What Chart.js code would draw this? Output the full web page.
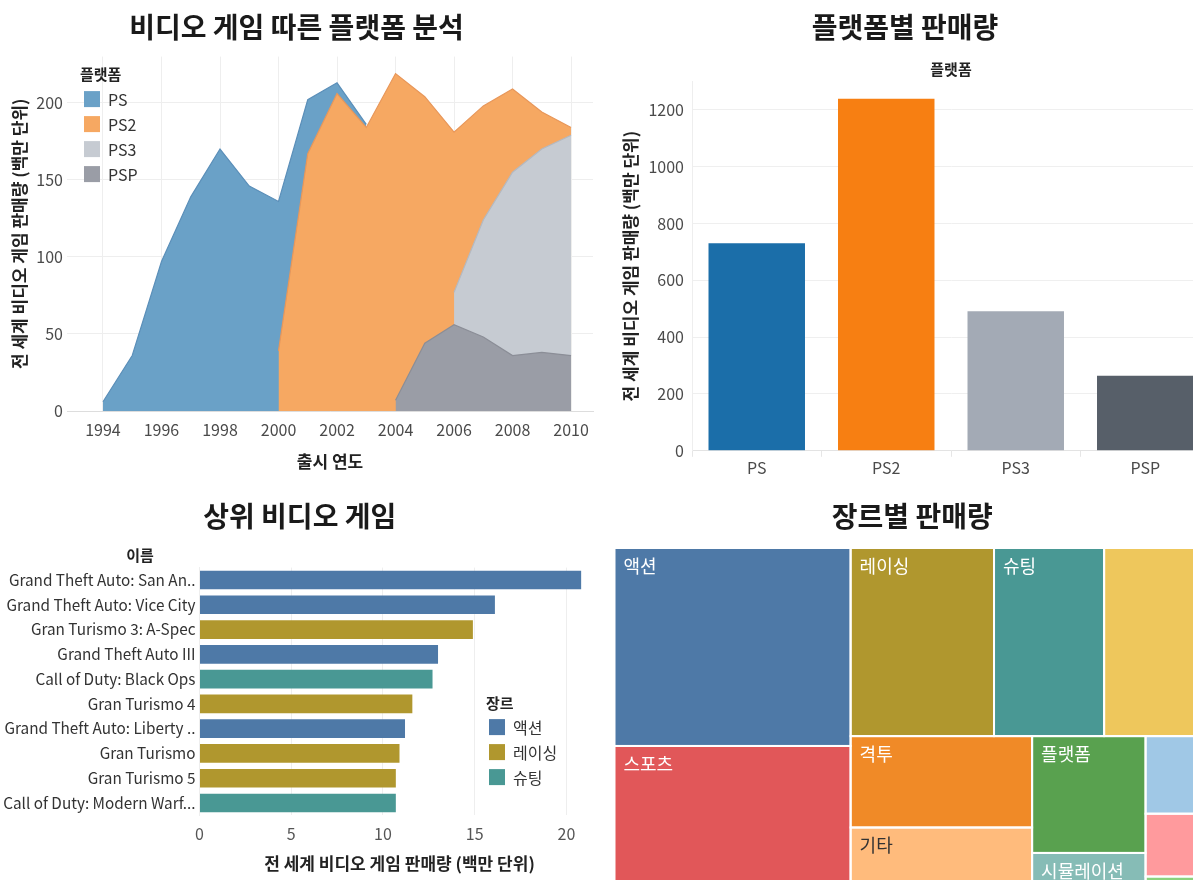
<!DOCTYPE html>
<html>
<head>
<meta charset="utf-8">
<script src="https://cdn.jsdelivr.net/npm/chart.js@4.4.1/dist/chart.umd.min.js"></script>
<style>
  html, body { margin:0; padding:0; background:#ffffff; width:1193px; height:880px; overflow:hidden; position:relative; }
  .panel { position:absolute; }
  .panel canvas { display:block; }
</style>
</head>
<body>
<div class="panel" style="left:0px;top:0px;width:600px;height:490px"><canvas id="areaChart"></canvas></div>
<div class="panel" style="left:600px;top:0px;width:620px;height:490px"><canvas id="platformChart"></canvas></div>
<div class="panel" style="left:0px;top:490px;width:600px;height:400px"><canvas id="gameChart"></canvas></div>
<div class="panel" style="left:600px;top:490px;width:620px;height:421px"><canvas id="genreChart"></canvas></div>
<script>
// ================= DATA =================
// Chart 1: stacked area of sales by release year (millions)
const years = [1994,1995,1996,1997,1998,1999,2000,2001,2002,2003,2004,2005,2006,2007,2008,2009,2010];
const platforms = ['PS','PS2','PS3','PSP'];
const salesPS  = [6,36,97,139,170,146,97,35,7,2,null,null,null,null,null,null,null];
const salesPS2 = [null,null,null,null,null,null,39,167,206,184,212,160,104,74,54,24,5];
const salesPS3 = [null,null,null,null,null,null,null,null,null,null,null,null,21,76,119,132,143];
const salesPSP = [null,null,null,null,null,null,null,null,null,null,7,44,56,48,36,38,36];
const yearTicks = [1994,1996,1998,2000,2002,2004,2006,2008,2010];
const areaTicks = [0,50,100,150,200];

// Chart 2: total sales by platform
const platformTotals = [731,1240,491,264];
const platformTicks = [0,200,400,600,800,1000,1200];

// Chart 3: top games
const games = ['Grand Theft Auto: San An..','Grand Theft Auto: Vice City','Gran Turismo 3: A-Spec','Grand Theft Auto III','Call of Duty: Black Ops','Gran Turismo 4','Grand Theft Auto: Liberty ..','Gran Turismo','Gran Turismo 5','Call of Duty: Modern Warf...'];
const gameSales = [20.8,16.1,14.9,13.0,12.7,11.6,11.2,10.9,10.7,10.7];
const gameGenres = ['액션','액션','레이싱','액션','슈팅','레이싱','액션','레이싱','레이싱','슈팅'];
const gameTicks = [0,5,10,15,20];

// Chart 4: treemap of sales by genre (unlabelled cells have no visible name)
const genreNames = ['액션','스포츠','레이싱','슈팅','','격투','기타','플랫폼','시뮬레이션','','',''];
const genreSales = [589,491,340,261,251,209,191,167,83,63,51,28];

// ================= STYLE =================
const FONT = "'Noto Sans CJK KR', 'Noto Sans', sans-serif";
Chart.defaults.font.family = FONT;
Chart.defaults.color = '#444';
Chart.defaults.animation = false;
Chart.defaults.plugins.tooltip.enabled = false;

const areaFill = ['#6aa1c7','#f6a862','#c6cbd2','#9a9da6'];
const areaLine = ['#5b8fb9','#e8975a','#b4b9c1','#8b8e97'];
const barColors = ['#1b6ea9','#f77f12','#a3aab5','#575f69'];
const genreColor = {'액션':'#4e79a7','레이싱':'#b0972e','슈팅':'#499894'};
const treemapColors = ['#4e79a7','#e15759','#b0972e','#499894','#eec75c','#f08a27','#ffbb7c','#59a14f','#86bcb6','#a0c8e6','#ff9a9d','#8cd17d'];

const titleFont = { family: FONT, size: 28, weight: 'bold', lineHeight: 1.2 };
const axisTitleFont = { family: FONT, size: 17, weight: 'bold', lineHeight: 1.2 };
const tickFont = { family: FONT, size: 16, lineHeight: 1.2 };
const plain = v => String(v);

// overlay plugin: legends / headers drawn relative to chart area
const overlay = {
  id: 'overlay',
  afterDraw(chart, args, opts) {
    const ctx = chart.ctx, a = chart.chartArea;
    ctx.save();
    ctx.textBaseline = 'middle';
    (opts.texts || []).forEach(t => {
      ctx.font = t.font; ctx.fillStyle = t.color; ctx.textAlign = t.align || 'left';
      ctx.fillText(t.text, a.left + t.dx, a.top + t.dy);
    });
    const lg = opts.legend;
    if (lg) {
      const x = a.left + lg.dx, y = a.top + lg.dy;
      ctx.textAlign = 'left';
      ctx.font = 'bold 15px ' + FONT; ctx.fillStyle = '#222';
      ctx.fillText(lg.title, x + lg.titleDx, y);
      lg.items.forEach((it, i) => {
        const cy = y + lg.first + i * lg.step;
        ctx.fillStyle = it.color;
        ctx.fillRect(x, cy - 8, 16, 16);
        ctx.font = '16px ' + FONT; ctx.fillStyle = '#333';
        ctx.fillText(it.text, x + 24, cy + 1);
      });
    }
    ctx.restore();
  }
};

// ================= CHART 1: stacked area =================
(function(){
  const series = [salesPS, salesPS2, salesPS3, salesPSP];
  const stackOrder = [3, 2, 1, 0]; // PSP at bottom, then PS3, PS2, PS on top
  const datasets = [];
  stackOrder.forEach((pi, level) => {
    const pts = [];
    years.forEach((yr, k) => {
      const v = series[pi][k];
      if (v === null) return;
      let base = 0;
      for (let l = 0; l < level; l++) { const lv = series[stackOrder[l]][k]; if (lv !== null) base += lv; }
      pts.push({ x: yr, y: base + v });
    });
    datasets.push({
      label: platforms[pi], data: pts, fill: 'origin',
      backgroundColor: areaFill[pi], borderColor: areaLine[pi], borderWidth: 1.2,
      pointRadius: 0, tension: 0
    });
  });
  new Chart(document.getElementById('areaChart'), {
    type: 'line',
    data: { datasets },
    options: {
      responsive: true, maintainAspectRatio: false,
      layout: { padding: { left: 0, right: 7, top: 0, bottom: 0 } },
      plugins: {
        legend: { display: false },
        title: { display: true, text: '비디오 게임 따른 플랫폼 분석', font: titleFont, color: '#1a1a1a', padding: { top: 11, bottom: 12 } },
        overlay: {
          legend: { dx: 17, dy: 18, titleDx: -4, first: 24.5, step: 25, title: '플랫폼',
                    items: platforms.map((p, i) => ({ text: p, color: areaFill[i] })) }
        }
      },
      scales: {
        x: {
          type: 'linear', min: 1992.77, max: 2010.75,
          afterBuildTicks: s => { s.ticks = yearTicks.map(v => ({ value: v })); },
          afterFit: s => { s.height = 79; },
          ticks: { font: tickFont, color: '#4a4a4a', padding: 9, callback: plain },
          grid: { color: '#eeeeee', drawTicks: false },
          border: { color: '#dddddd' },
          title: { display: true, text: '출시 연도', font: axisTitleFont, color: '#222', padding: { top: 10, bottom: 18 } }
        },
        y: {
          min: 0, max: 230,
          afterBuildTicks: s => { s.ticks = areaTicks.map(v => ({ value: v })); },
          afterFit: s => { s.width = 67; },
          ticks: { font: tickFont, color: '#4a4a4a', padding: 4, callback: plain },
          grid: { color: '#eeeeee', drawTicks: false },
          border: { display: false },
          title: { display: true, text: '전 세계 비디오 게임 판매량 (백만 단위)', font: axisTitleFont, color: '#222', padding: { top: 9, bottom: 0 } }
        }
      }
    },
    plugins: [overlay]
  });
})();

// ================= CHART 2: platform bars =================
new Chart(document.getElementById('platformChart'), {
  type: 'bar',
  data: { labels: platforms, datasets: [{ label: '판매량', data: platformTotals, backgroundColor: barColors, categoryPercentage: 1, barPercentage: 0.745 }] },
  options: {
    responsive: true, maintainAspectRatio: false,
    layout: { padding: { left: 0, right: 10, top: 0, bottom: 10 } },
    plugins: {
      legend: { display: false },
      title: { display: true, text: '플랫폼별 판매량', font: titleFont, color: '#1a1a1a', padding: { top: 11, bottom: 7 } },
      subtitle: { display: true, text: '플랫폼', fullSize: false, font: { family: FONT, size: 15, weight: 'bold', lineHeight: 1.2 }, color: '#222', padding: { top: 9, bottom: 3 } }
    },
    scales: {
      x: {
        ticks: { font: tickFont, color: '#4a4a4a', padding: 2 },
        grid: { offset: true, drawOnChartArea: false, drawTicks: true, tickLength: 6, color: '#e6e6e6' },
        border: { color: '#e3e3e3' }
      },
      y: {
        min: 0, max: 1300,
        afterBuildTicks: s => { s.ticks = platformTicks.map(v => ({ value: v })); },
        afterFit: s => { s.width = 92; },
        ticks: { font: tickFont, color: '#4a4a4a', padding: 8, callback: plain },
        grid: { color: '#efefef', drawTicks: false },
        border: { color: '#eeeeee' },
        title: { display: true, text: '전 세계 비디오 게임 판매량 (백만 단위)', font: axisTitleFont, color: '#222', padding: { top: 20, bottom: 0 } }
      }
    }
  }
});

// ================= CHART 3: top games =================
(function(){
  const uniqueGenres = [];
  gameGenres.forEach(g => { if (!uniqueGenres.includes(g)) uniqueGenres.push(g); });
  new Chart(document.getElementById('gameChart'), {
    type: 'bar',
    data: { labels: games, datasets: [{ label: '판매량', data: gameSales, backgroundColor: gameGenres.map(g => genreColor[g]), categoryPercentage: 1, barPercentage: 0.755 }] },
    options: {
      indexAxis: 'y',
      responsive: true, maintainAspectRatio: false,
      layout: { padding: { left: 0, right: 0.5, top: 0, bottom: 0 } },
      plugins: {
        legend: { display: false },
        title: { display: true, text: '상위 비디오 게임', font: titleFont, color: '#1a1a1a', padding: { top: 9.5, bottom: 34.5 } },
        overlay: {
          texts: [{ text: '이름', dx: -59.5, dy: -12.5, align: 'center', font: 'bold 15px ' + FONT, color: '#222' }],
          legend: { dx: 289.5, dy: 135.5, titleDx: -3, first: 24, step: 25, title: '장르',
                    items: uniqueGenres.map(g => ({ text: g, color: genreColor[g] })) }
        }
      },
      scales: {
        x: {
          min: 0, max: 21.8,
          afterBuildTicks: s => { s.ticks = gameTicks.map(v => ({ value: v })); },
          afterFit: s => { s.height = 74.6; },
          ticks: { font: tickFont, color: '#555', padding: 9, callback: plain },
          grid: { color: '#eeeeee', drawTicks: false },
          border: { display: false },
          title: { display: true, text: '전 세계 비디오 게임 판매량 (백만 단위)', font: axisTitleFont, color: '#222', padding: { top: 8, bottom: 16 } }
        },
        y: {
          afterFit: s => { s.width = 199.5; },
          ticks: { font: { family: FONT, size: 15.3, lineHeight: 1.2 }, color: '#333', padding: 4, autoSkip: false },
          grid: { display: false, drawTicks: false },
          border: { color: '#eeeeee' }
        }
      }
    },
    plugins: [overlay]
  });
})();

// ================= CHART 4: treemap (squarified, golden ratio) =================
function squarify(values, x0, y0, x1, y1, ratio) {
  const out = [];
  let value = values.reduce((a, b) => a + b, 0);
  let i0 = 0, i1 = 0;
  const n = values.length;
  while (i0 < n) {
    const dx = x1 - x0, dy = y1 - y0;
    let sumValue = values[i1++];
    let minValue = sumValue, maxValue = sumValue;
    const alpha = Math.max(dy / dx, dx / dy) / (value * ratio);
    let beta = sumValue * sumValue * alpha;
    let minRatio = Math.max(maxValue / beta, beta / minValue);
    for (; i1 < n; ++i1) {
      const nv = values[i1];
      sumValue += nv;
      if (nv < minValue) minValue = nv;
      if (nv > maxValue) maxValue = nv;
      beta = sumValue * sumValue * alpha;
      const newRatio = Math.max(maxValue / beta, beta / minValue);
      if (newRatio > minRatio) { sumValue -= nv; break; }
      minRatio = newRatio;
    }
    if (dx < dy) {
      const yy = (i1 >= n) ? y1 : y0 + dy * sumValue / value;
      let xx = x0;
      for (let k = i0; k < i1; k++) { const w = dx * values[k] / sumValue; out.push({ i: k, x0: xx, x1: xx + w, y0: y0, y1: yy }); xx += w; }
      y0 = yy;
    } else {
      const xx = (i1 >= n) ? x1 : x0 + dx * sumValue / value;
      let yy = y0;
      for (let k = i0; k < i1; k++) { const h = dy * values[k] / sumValue; out.push({ i: k, x0: x0, x1: xx, y0: yy, y1: yy + h }); yy += h; }
      x0 = xx;
    }
    value -= sumValue; i0 = i1;
  }
  return out;
}
function isLight(hex) {
  const r = parseInt(hex.substr(1,2),16), g = parseInt(hex.substr(3,2),16), b = parseInt(hex.substr(5,2),16);
  return (0.299*r + 0.587*g + 0.114*b) > 175;
}
const treemapPlugin = {
  id: 'treemap',
  beforeDatasetsDraw(chart) {
    const xs = chart.scales.x, ys = chart.scales.y, ctx = chart.ctx;
    const L = xs.getPixelForValue(0), R = xs.getPixelForValue(1);
    const T = ys.getPixelForValue(1), B = ys.getPixelForValue(0);
    const cells = squarify(genreSales, L, T, R, B, (1 + Math.sqrt(5)) / 2);
    ctx.save();
    cells.forEach(c => {
      ctx.fillStyle = treemapColors[c.i];
      ctx.fillRect(c.x0, c.y0, c.x1 - c.x0, c.y1 - c.y0);
    });
    ctx.strokeStyle = '#ffffff'; ctx.lineWidth = 2;
    cells.forEach(c => { ctx.strokeRect(c.x0, c.y0, c.x1 - c.x0, c.y1 - c.y0); });
    ctx.font = '18px ' + FONT; ctx.textBaseline = 'top'; ctx.textAlign = 'left';
    cells.forEach(c => {
      const name = genreNames[c.i];
      if (!name) return;
      ctx.fillStyle = isLight(treemapColors[c.i]) ? '#333333' : '#ffffff';
      ctx.fillText(name, c.x0 + 9, c.y0 + 9);
    });
    ctx.restore();
  }
};
new Chart(document.getElementById('genreChart'), {
  type: 'scatter',
  data: { datasets: [{ label: '장르', data: [] }] },
  options: {
    responsive: true, maintainAspectRatio: false,
    layout: { padding: { left: 14.5, right: 10, top: 0, bottom: 0 } },
    plugins: {
      legend: { display: false },
      title: { display: true, text: '장르별 판매량', font: titleFont, color: '#1a1a1a', padding: { top: 9.5, bottom: 14.9 } }
    },
    scales: {
      x: { type: 'linear', min: 0, max: 1, display: false },
      y: { type: 'linear', min: 0, max: 1, display: false }
    }
  },
  plugins: [treemapPlugin]
});
</script>
</body>
</html>
